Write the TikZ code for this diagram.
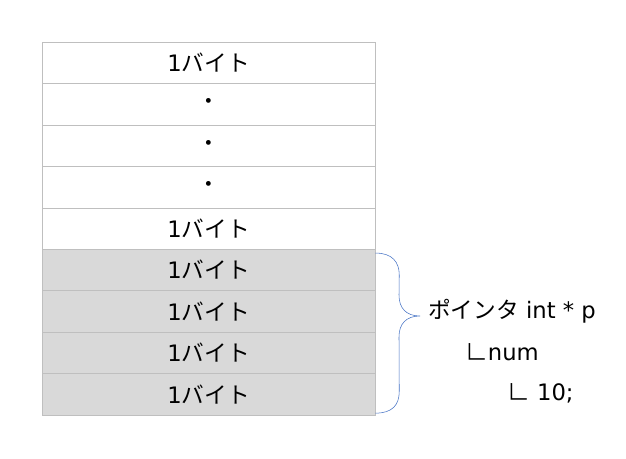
\documentclass[tikz,border=0pt]{standalone}
\usepackage{fontspec}
\setmainfont{DejaVu Sans}
\newfontfamily\jp{Noto Sans CJK JP}
\usepackage{xcolor}
\usepackage{tikz}
\usetikzlibrary{calc}
\usetikzlibrary{positioning}
\definecolor{cellgray}{HTML}{D9D9D9}
\definecolor{gridgray}{HTML}{BFBFBF}
\definecolor{braceblue}{HTML}{4472C4}

\begin{document}
\begin{tikzpicture}[x=0.75pt,y=-0.75pt,
		cell/.style={draw=gridgray,minimum width=249.75pt,minimum height=31.05pt,inner sep=0pt,font=\fontsize{17}{20}\selectfont},
		usedcell/.style={cell,fill=cellgray},
		codeline/.style={anchor=west,inner sep=0pt,font=\fontsize{17}{20}\selectfont}]
		\useasboundingbox (0,0) rectangle (626,459);
		% memory cells
		\foreach \i/\t in {1/1{\jp バイト},2/{\jp ・},3/{\jp ・},4/{\jp ・},5/1{\jp バイト}}
			\node[cell] (row\i) at (208.5,{42.3+41.4*(\i-0.5)}) {\t};
		\foreach \i in {6,...,9}
			\node[usedcell] (row\i) at (208.5,{42.3+41.4*(\i-0.5)}) {1{\jp バイト}};
		% brace
		\coordinate (bracetop) at ($(row6.north east)+(0,4)$);
		\coordinate (bracebot) at ($(row9.south east)+(0,-2)$);
		\coordinate (bracetip) at (420,316);
		\draw[braceblue] (bracetop) .. controls ($(bracetop)+(17,0)$) and ($(bracetop)+(24,9)$) .. ($(bracetop)+(24,22)$)
			-- (399,295) .. controls (399,308) and (406,316) .. (bracetip)
			.. controls (406,316) and (399,324) .. (399,337)
			-- ($(bracebot)+(24,-22)$) .. controls ($(bracebot)+(24,-8)$) and ($(bracebot)+(17,0)$) .. (bracebot);
		% code
		\node[codeline] (decl) at (428,311) {{\jp ポインタ} int * p};
		\node[codeline] (name) at (465,352) {{\jp ∟}num};
		\node[codeline] (value) at (507,393) {{\jp ∟} 10;};
	\end{tikzpicture}
\end{document}
